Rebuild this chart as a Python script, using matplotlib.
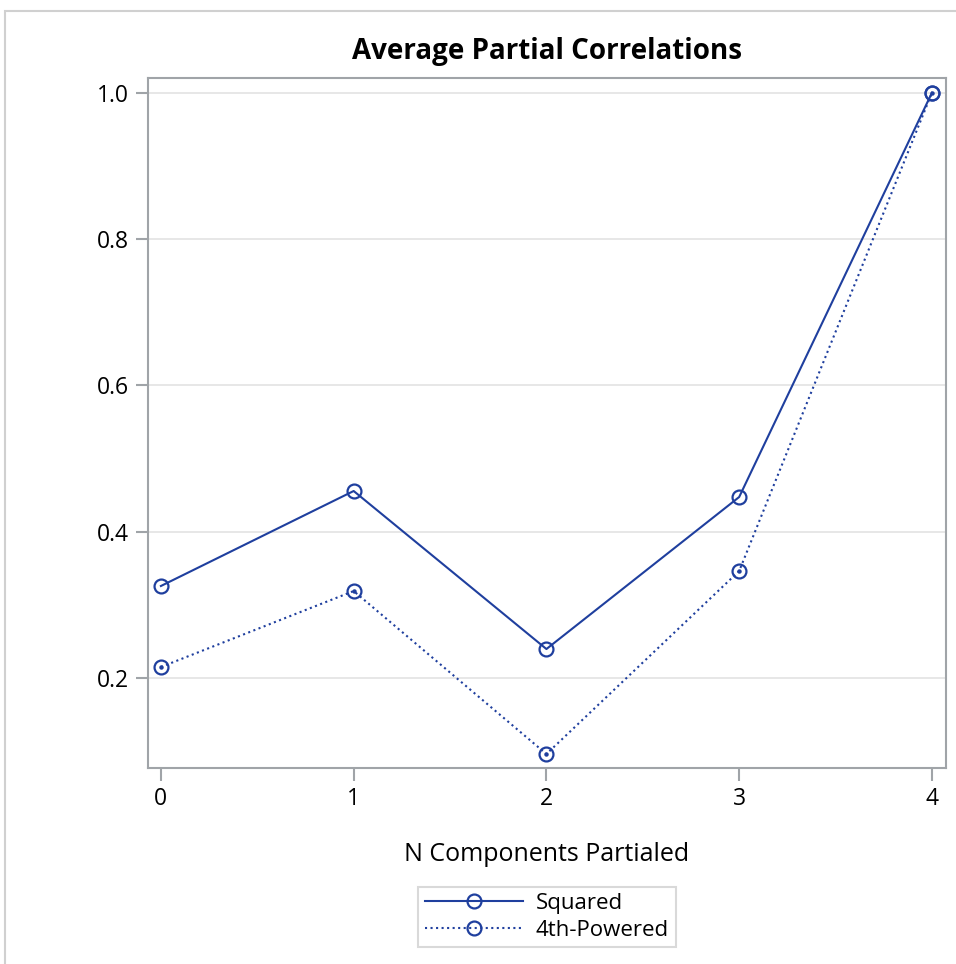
import matplotlib
matplotlib.use("Agg")
import matplotlib.pyplot as plt
from matplotlib.patches import Rectangle

# data
n_components = [0, 1, 2, 3, 4]
squared = [0.3255, 0.4554, 0.2393, 0.4472, 1.0]
fourth = [0.2147, 0.3186, 0.0957, 0.3460, 1.0]
yticks = [0.2, 0.4, 0.6, 0.8, 1.0]

color = "#1F3F9E"
plt.rcParams["font.family"] = ["Open Sans", "DejaVu Sans"]

W, H = 956, 964
fig = plt.figure(figsize=(W / 100, H / 100), dpi=100)
ax = fig.add_axes([148 / W, 1 - 768 / H, (946 - 148) / W, (768 - 78) / H])

# outer frame
fig.patches.append(Rectangle((5 / W, -0.01), 1.0, 1 - 11 / H + 0.01,
                             transform=fig.transFigure, fill=False,
                             edgecolor="#d0d0d0", linewidth=1.5))

ax.plot(n_components, squared, "-", color=color, lw=1.5, marker="o",
        ms=10, mfc="none", mec=color, mew=1.6, label="Squared")
ax.plot(n_components, fourth, ":", color=color, lw=1.5, marker="o",
        ms=10, mfc="none", mec=color, mew=1.6, label="4th-Powered")
ax.plot(n_components, fourth, "o", color=color, ms=2.2)

ax.set_xlim(-0.067, 4.073)
ax.set_ylim(0.0766, 1.0202)
ax.set_xticks(n_components)
ax.set_yticks(yticks)
ax.set_yticklabels([f"{v:.1f}" for v in yticks])
ax.grid(axis="y", color="#e3e3e3", lw=1.2)
ax.set_axisbelow(True)
for s in ax.spines.values():
    s.set_color("#a0a4a8")
    s.set_linewidth(1.5)
ax.tick_params(colors="#a0a4a8", labelcolor="black", labelsize=16.5,
               length=9, width=1.5, pad=5)

ax.set_xlabel("N Components Partialed", fontsize=18, labelpad=22)
ax.set_title("Average Partial Correlations", fontsize=20, fontweight="bold",
             pad=14)

leg = fig.legend(loc="center", bbox_to_anchor=(547 / W, 1 - 917 / H),
                 fontsize=16, frameon=True, fancybox=False,
                 handlelength=4.4, handletextpad=0.6, borderpad=0.3,
                 labelspacing=0.25, borderaxespad=0)
leg.get_frame().set_edgecolor("#d0d0d0")
leg.get_frame().set_linewidth(1.5)

fig.savefig("out.png", dpi=100)
